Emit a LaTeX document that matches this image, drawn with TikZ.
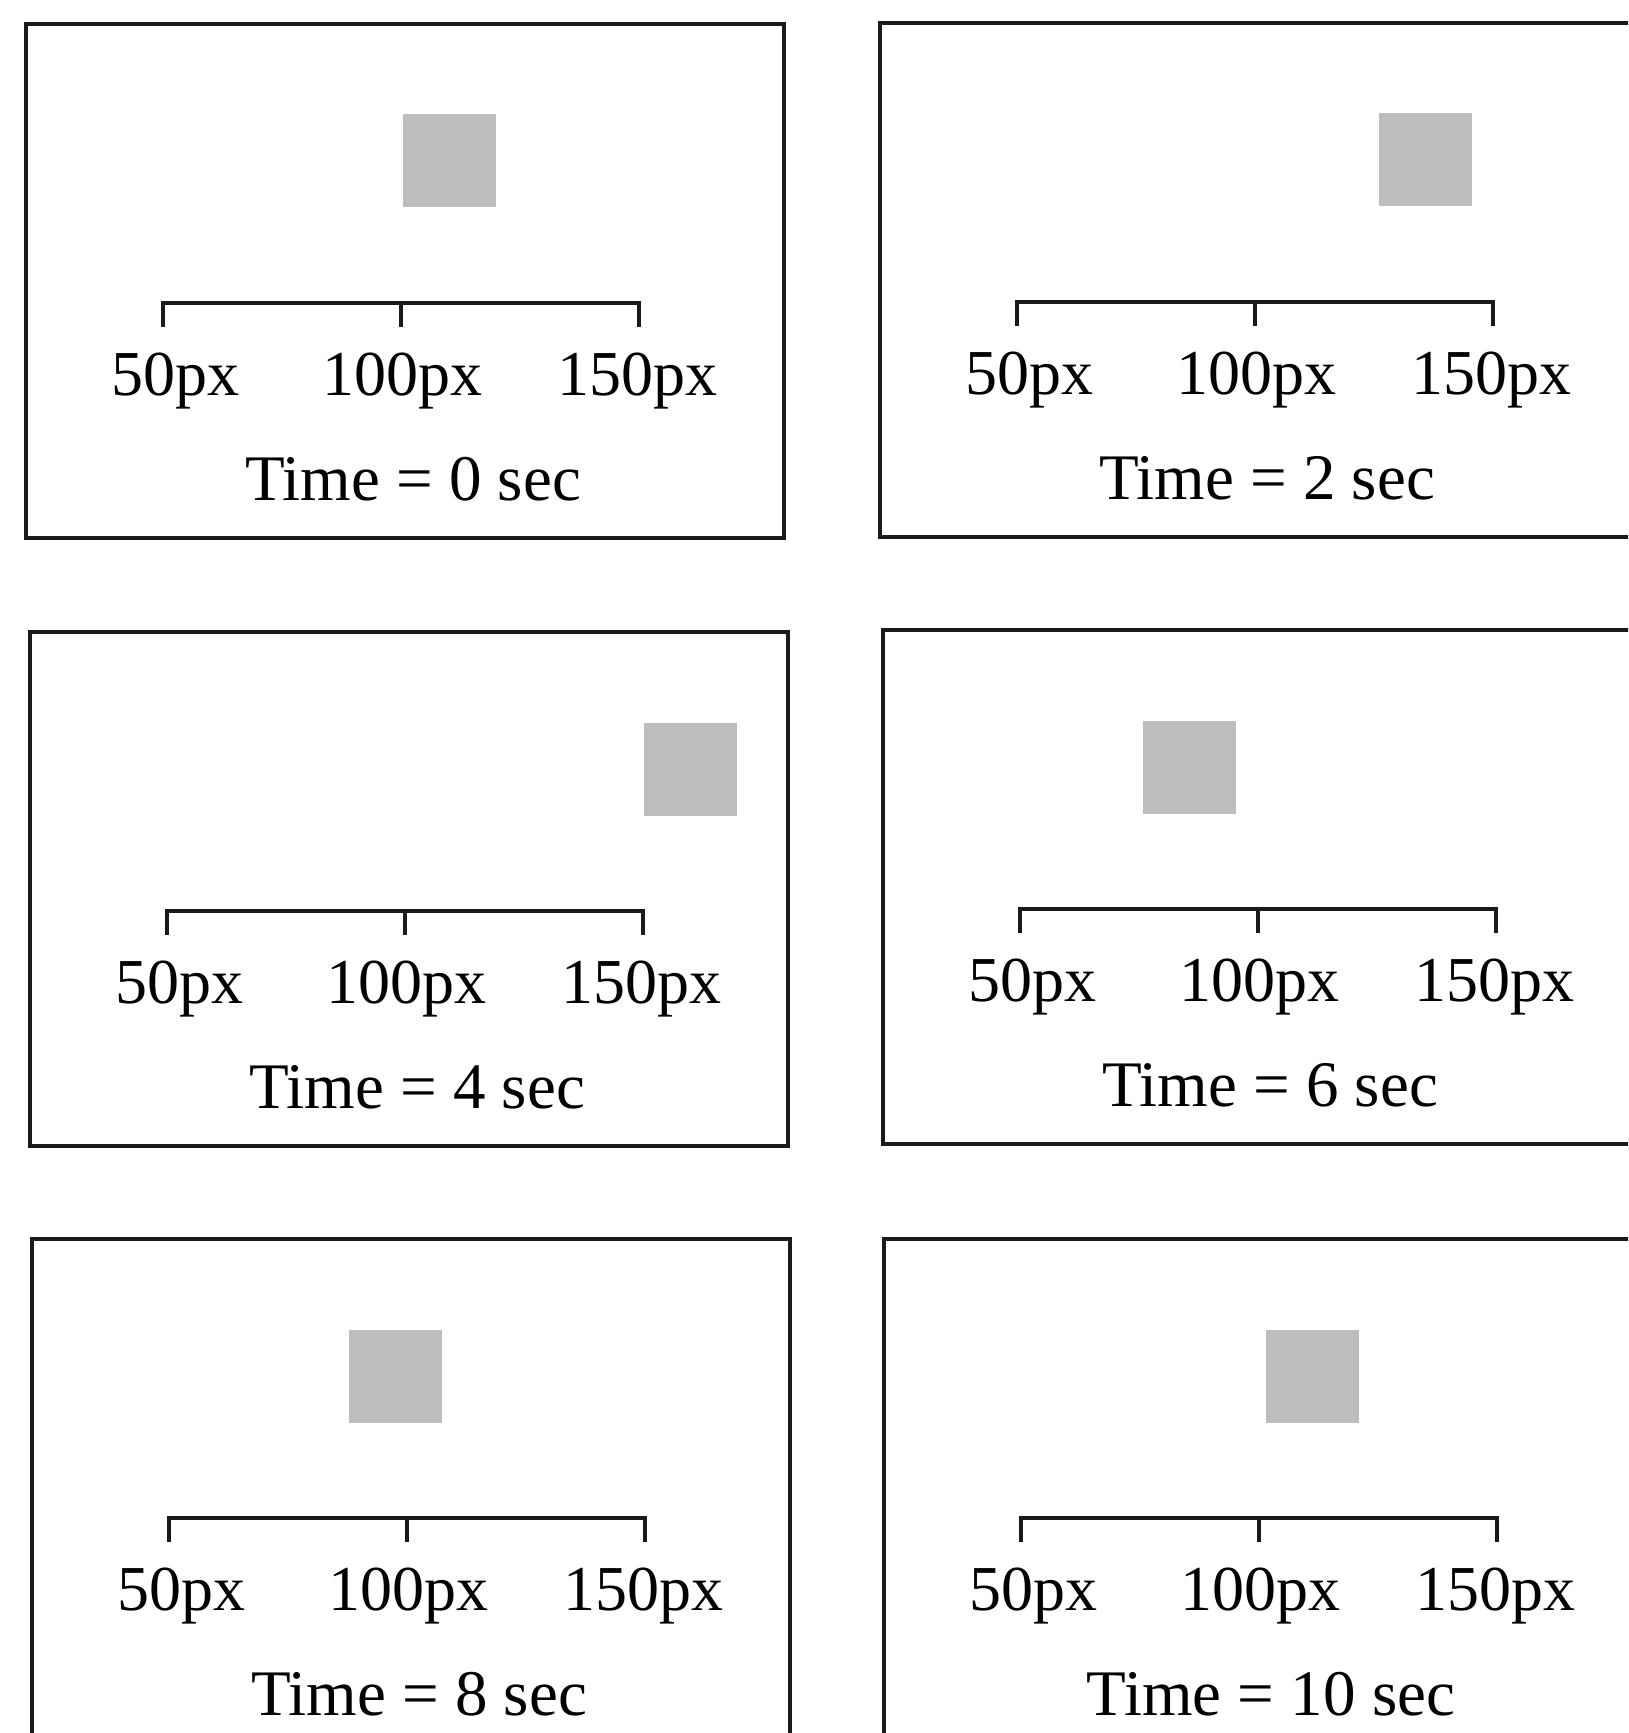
\documentclass[tikz,border=0pt]{standalone}
\usepackage{fontspec}
\setmainfont{Liberation Serif}
\usetikzlibrary{positioning,calc}
\definecolor{patchGray}{HTML}{BDBDBD}
\definecolor{frameInk}{HTML}{1A1A1A}

\begin{document}
\begin{tikzpicture}[x=0.5pt, y=-0.5pt,
          panel/.style={draw=frameInk, line width=2pt, minimum width=379pt, minimum height=257pt, inner sep=0pt, anchor=north west},
          patch/.style={fill=patchGray, minimum size=46.5pt, inner sep=0pt},
          ruler/.style={draw=frameInk, line width=2.4pt},
          tick/.style={draw=frameInk, line width=2pt},
          pxlabel/.style={anchor=base, inner sep=0pt, font=\fontsize{32}{38}\selectfont},
          timelabel/.style={anchor=base, inner sep=0pt, font=\fontsize{32.5}{38}\selectfont}]
        \useasboundingbox (0,0) rectangle (1628,1733);
        \clip (0,0) rectangle (1628,1733);
        \fill[white] (0,0) rectangle (1628,1733);
        % one panel per time step: index / top-left / square centre / seconds
        \foreach \i/\X/\Y/\sq/\t in {1/24/22/425/0, 2/878/21/547/2, 3/28/630/662/4, 4/881/628/308/6, 5/30/1237/365/8, 6/882/1237/430/10} {
          \node[panel] (panel\i) at (\X,\Y) {};
          \node[patch] (sq\i) at ({\X+\sq},{\Y+139}) {};
          \coordinate (bl\i) at ({\X+139},{\Y+281});
          \coordinate (bm\i) at ({\X+377},{\Y+281});
          \coordinate (br\i) at ({\X+615},{\Y+281});
          \draw[ruler] ($(bl\i)+(0,24)$) -- (bl\i) -- (br\i) -- ($(br\i)+(0,24)$);
          \draw[tick] (bm\i) -- ($(bm\i)+(0,24)$);
          \node[pxlabel] (lo\i) at ({\X+151},{\Y+373}) {50px};
          \node[pxlabel] (mid\i) at ({\X+378},{\Y+373}) {100px};
          \node[pxlabel] (hi\i) at ({\X+613},{\Y+373}) {150px};
          \node[timelabel] (time\i) at ({\X+389},{\Y+478}) {Time = \t\ sec};
        }
      \end{tikzpicture}
\end{document}
